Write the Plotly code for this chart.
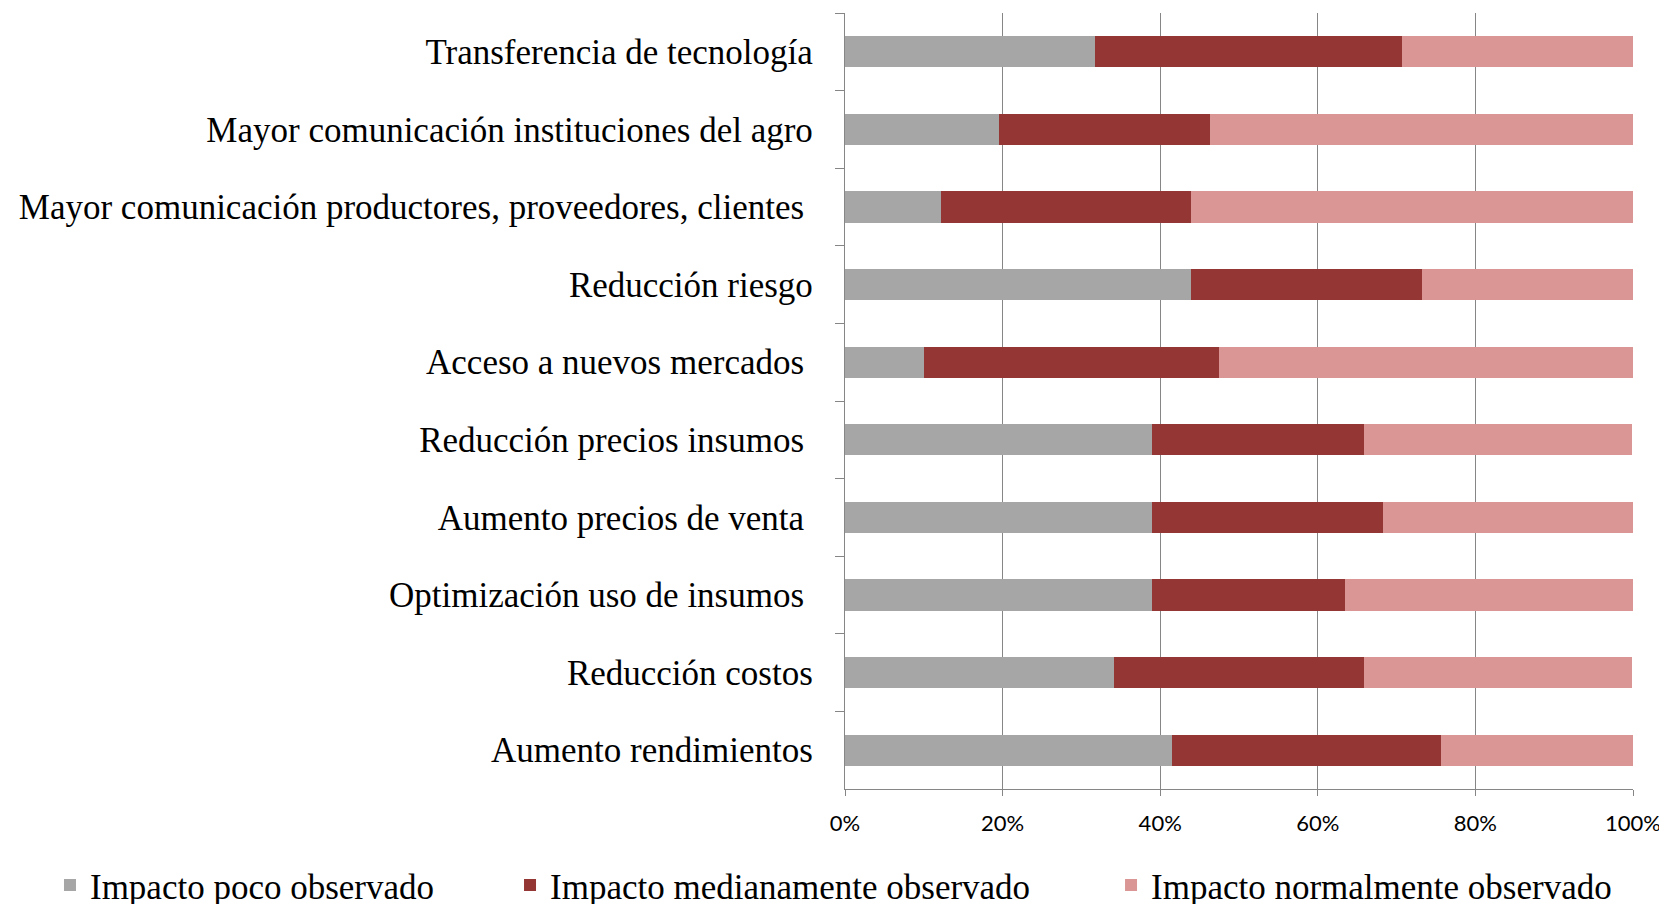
import plotly.graph_objects as go

categories = [
    "Transferencia de tecnología",
    "Mayor comunicación instituciones del agro",
    "Mayor comunicación productores, proveedores, clientes\u00a0",
    "Reducción riesgo",
    "Acceso a nuevos mercados\u00a0",
    "Reducción precios insumos\u00a0",
    "Aumento precios de venta\u00a0",
    "Optimización uso de insumos\u00a0",
    "Reducción costos",
    "Aumento rendimientos",
]

poco = [31.7, 19.5, 12.2, 43.9, 10.0, 39.0, 39.0, 39.0, 34.1, 41.5]
mediano = [39.0, 26.8, 31.7, 29.3, 37.5, 26.8, 29.3, 24.4, 31.7, 34.1]
normal = [29.3, 53.7, 56.1, 26.8, 52.5, 34.1, 31.7, 36.6, 34.1, 24.4]

series_names = ["Impacto poco observado", "Impacto medianamente observado", "Impacto normalmente observado"]
colors = ["#A6A6A6", "#943634", "#D99694"]

x_tickvals = [0, 20, 40, 60, 80, 100]
x_ticktext = ["0%", "20%", "40%", "60%", "80%", "100%"]

serif = "Liberation Serif"
fsize = 35
axis_col = "#868686"

legend_ids = ["legend", "legend2", "legend3"]
legend_x = [-1.0089, -0.4251, 0.3376]

fig = go.Figure()
for name, vals, col, lid in zip(series_names, [poco, mediano, normal], colors, legend_ids):
    fig.add_trace(go.Bar(
        y=categories, x=vals, name=name, orientation="h",
        marker=dict(color=col, line=dict(width=0)),
        legend=lid,
    ))

leg_common = dict(
    orientation="h", xanchor="left", y=-0.124, yanchor="middle",
    xref="paper", yref="paper", bgcolor="rgba(0,0,0,0)",
    font=dict(family=serif, size=fsize, color="black"),
)
fig.update_layout(
    barmode="stack",
    bargap=0.6,
    width=1667, height=904,
    paper_bgcolor="white", plot_bgcolor="white",
    margin=dict(l=837, r=42, t=5, b=123, autoexpand=False),
    font=dict(family=serif, size=fsize, color="black"),
    legend=dict(x=legend_x[0], **leg_common),
    legend2=dict(x=legend_x[1], **leg_common),
    legend3=dict(x=legend_x[2], **leg_common),
    showlegend=True,
)

fig.update_xaxes(
    range=[0, 100], tickvals=x_tickvals, ticktext=x_ticktext,
    showgrid=True, gridcolor=axis_col, gridwidth=1.3,
    showline=True, linecolor=axis_col, linewidth=1.3,
    ticks="outside", ticklen=6, tickcolor=axis_col, tickwidth=1.3,
    tickfont=dict(family="Lato", size=22, color="black"),
    ticklabelstandoff=8, ticklabeloverflow="allow",
    zeroline=False,
)
fig.update_yaxes(
    autorange="reversed", categoryorder="array", categoryarray=categories,
    showline=True, linecolor=axis_col, linewidth=1.3,
    ticks="outside", ticklen=9, tickcolor=axis_col, tickwidth=1.3,
    tickson="boundaries", showgrid=False,
    tickfont=dict(family=serif, size=fsize, color="black"),
    ticklabelstandoff=24,
)

fig.write_html("out.html")
